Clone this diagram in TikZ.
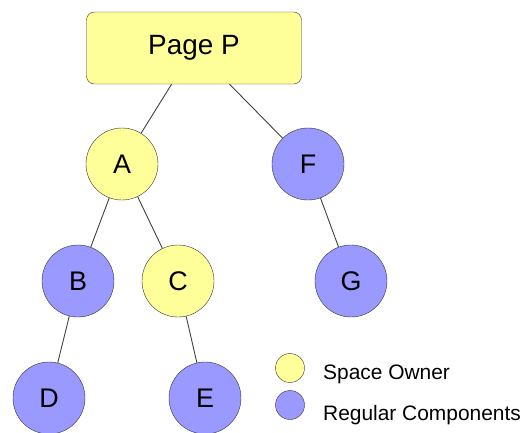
\documentclass[tikz,border=0pt]{standalone}
\usepackage{fontspec}
\setmainfont{Liberation Sans}
\usepackage{tikz}
\usetikzlibrary{positioning}

\definecolor{owner}{HTML}{FFFF99}
\definecolor{regular}{HTML}{9999FF}

\begin{document}
\begin{tikzpicture}[
    x=1bp, y=-1bp,
    page/.style={draw=black!80, fill=owner, rounded corners=8bp, minimum width=215bp, minimum height=72bp, font=\fontsize{28}{30}\selectfont},
    comp/.style={draw=black!80, circle, minimum size=72bp, inner sep=0pt, fill=#1, font=\fontsize{27}{30}\selectfont},
    key/.style={draw=black!80, circle, minimum size=29bp, inner sep=0pt, fill=#1},
    keytext/.style={anchor=base west, inner sep=0pt, font=\fontsize{21}{24}\selectfont},
    link/.style={draw=black!75, line width=0.9bp}
]
\useasboundingbox (0,0) rectangle (528,432);

% Pagina e componenti
\node[page] (page) at (194, 48) {Page P};

\node[comp=owner] (a) at (122, 164) {A};
\node[comp=regular] (f) at (308, 164) {F};

\node[comp=regular] (b) at (78, 281) {B};
\node[comp=owner] (c) at (178, 281) {C};
\node[comp=regular] (g) at (351, 281) {G};

\node[comp=regular] (d) at (49, 398) {D};
\node[comp=regular] (e) at (205, 398) {E};

% Collegamenti
\draw[link] (page) -- (a);
\draw[link] (page) -- (f);
\draw[link] (a) -- (b);
\draw[link] (a) -- (c);
\draw[link] (f) -- (g);
\draw[link] (b) -- (d);
\draw[link] (c) -- (e);

% Legenda
\node[key=owner] (key-owner) at (290, 368) {};
\node[key=regular] (key-regular) at (290, 405) {};
\node[keytext] (txt-owner) at (323, 379) {Space Owner};
\node[keytext] (txt-regular) at (323, 420) {Regular Components};

\end{tikzpicture}
\end{document}
